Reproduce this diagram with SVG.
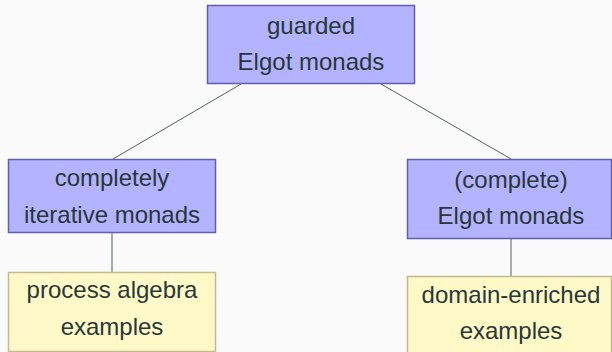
<svg xmlns="http://www.w3.org/2000/svg" width="612" height="352" viewBox="0 0 612 352">
  <style>
    .bg { fill: #fafafa; }
    .blue { fill: #b3b3ff; stroke: #6060a8; stroke-width: 1.5; }
    .yellow { fill: #fff9c8; stroke: #c0bc90; stroke-width: 1.5; }
    .edge { stroke: #2b3a3a; stroke-width: 0.8; fill: none; }
    .edge-v { stroke: #6a7878; stroke-width: 1.2; fill: none; }
    text { font-family: "Liberation Sans", "DejaVu Sans", sans-serif; font-size: 24px; fill: #283838; text-anchor: middle; }
  </style>
  <rect class="bg" x="0" y="0" width="612" height="352"/>
  <g id="connectors">
    <line class="edge" x1="241" y1="84" x2="113" y2="159"/>
    <line class="edge" x1="381" y1="84" x2="511" y2="159"/>
    <line class="edge-v" x1="112" y1="233" x2="112" y2="272"/>
    <line class="edge" x1="511" y1="239" x2="511" y2="276"/>
  </g>
  <g id="guarded-elgot">
    <rect class="blue" x="207.5" y="5.5" width="207" height="78"/>
    <text x="311" y="34">guarded</text>
    <text x="311" y="70">Elgot monads</text>
  </g>
  <g id="completely-iterative">
    <rect class="blue" x="8.5" y="159.5" width="207" height="73"/>
    <text x="112" y="186">completely</text>
    <text x="112" y="223">iterative monads</text>
  </g>
  <g id="complete-elgot">
    <rect class="blue" x="407.5" y="159.5" width="204" height="79"/>
    <text x="511" y="188">(complete)</text>
    <text x="511" y="224">Elgot monads</text>
  </g>
  <g id="process-algebra">
    <rect class="yellow" x="8.5" y="272.5" width="207" height="79"/>
    <text x="112" y="298">process algebra</text>
    <text x="112" y="335">examples</text>
  </g>
  <g id="domain-enriched">
    <rect class="yellow" x="407.5" y="276.5" width="204" height="80"/>
    <text x="511" y="303">domain-enriched</text>
    <text x="511" y="339">examples</text>
  </g>
</svg>
